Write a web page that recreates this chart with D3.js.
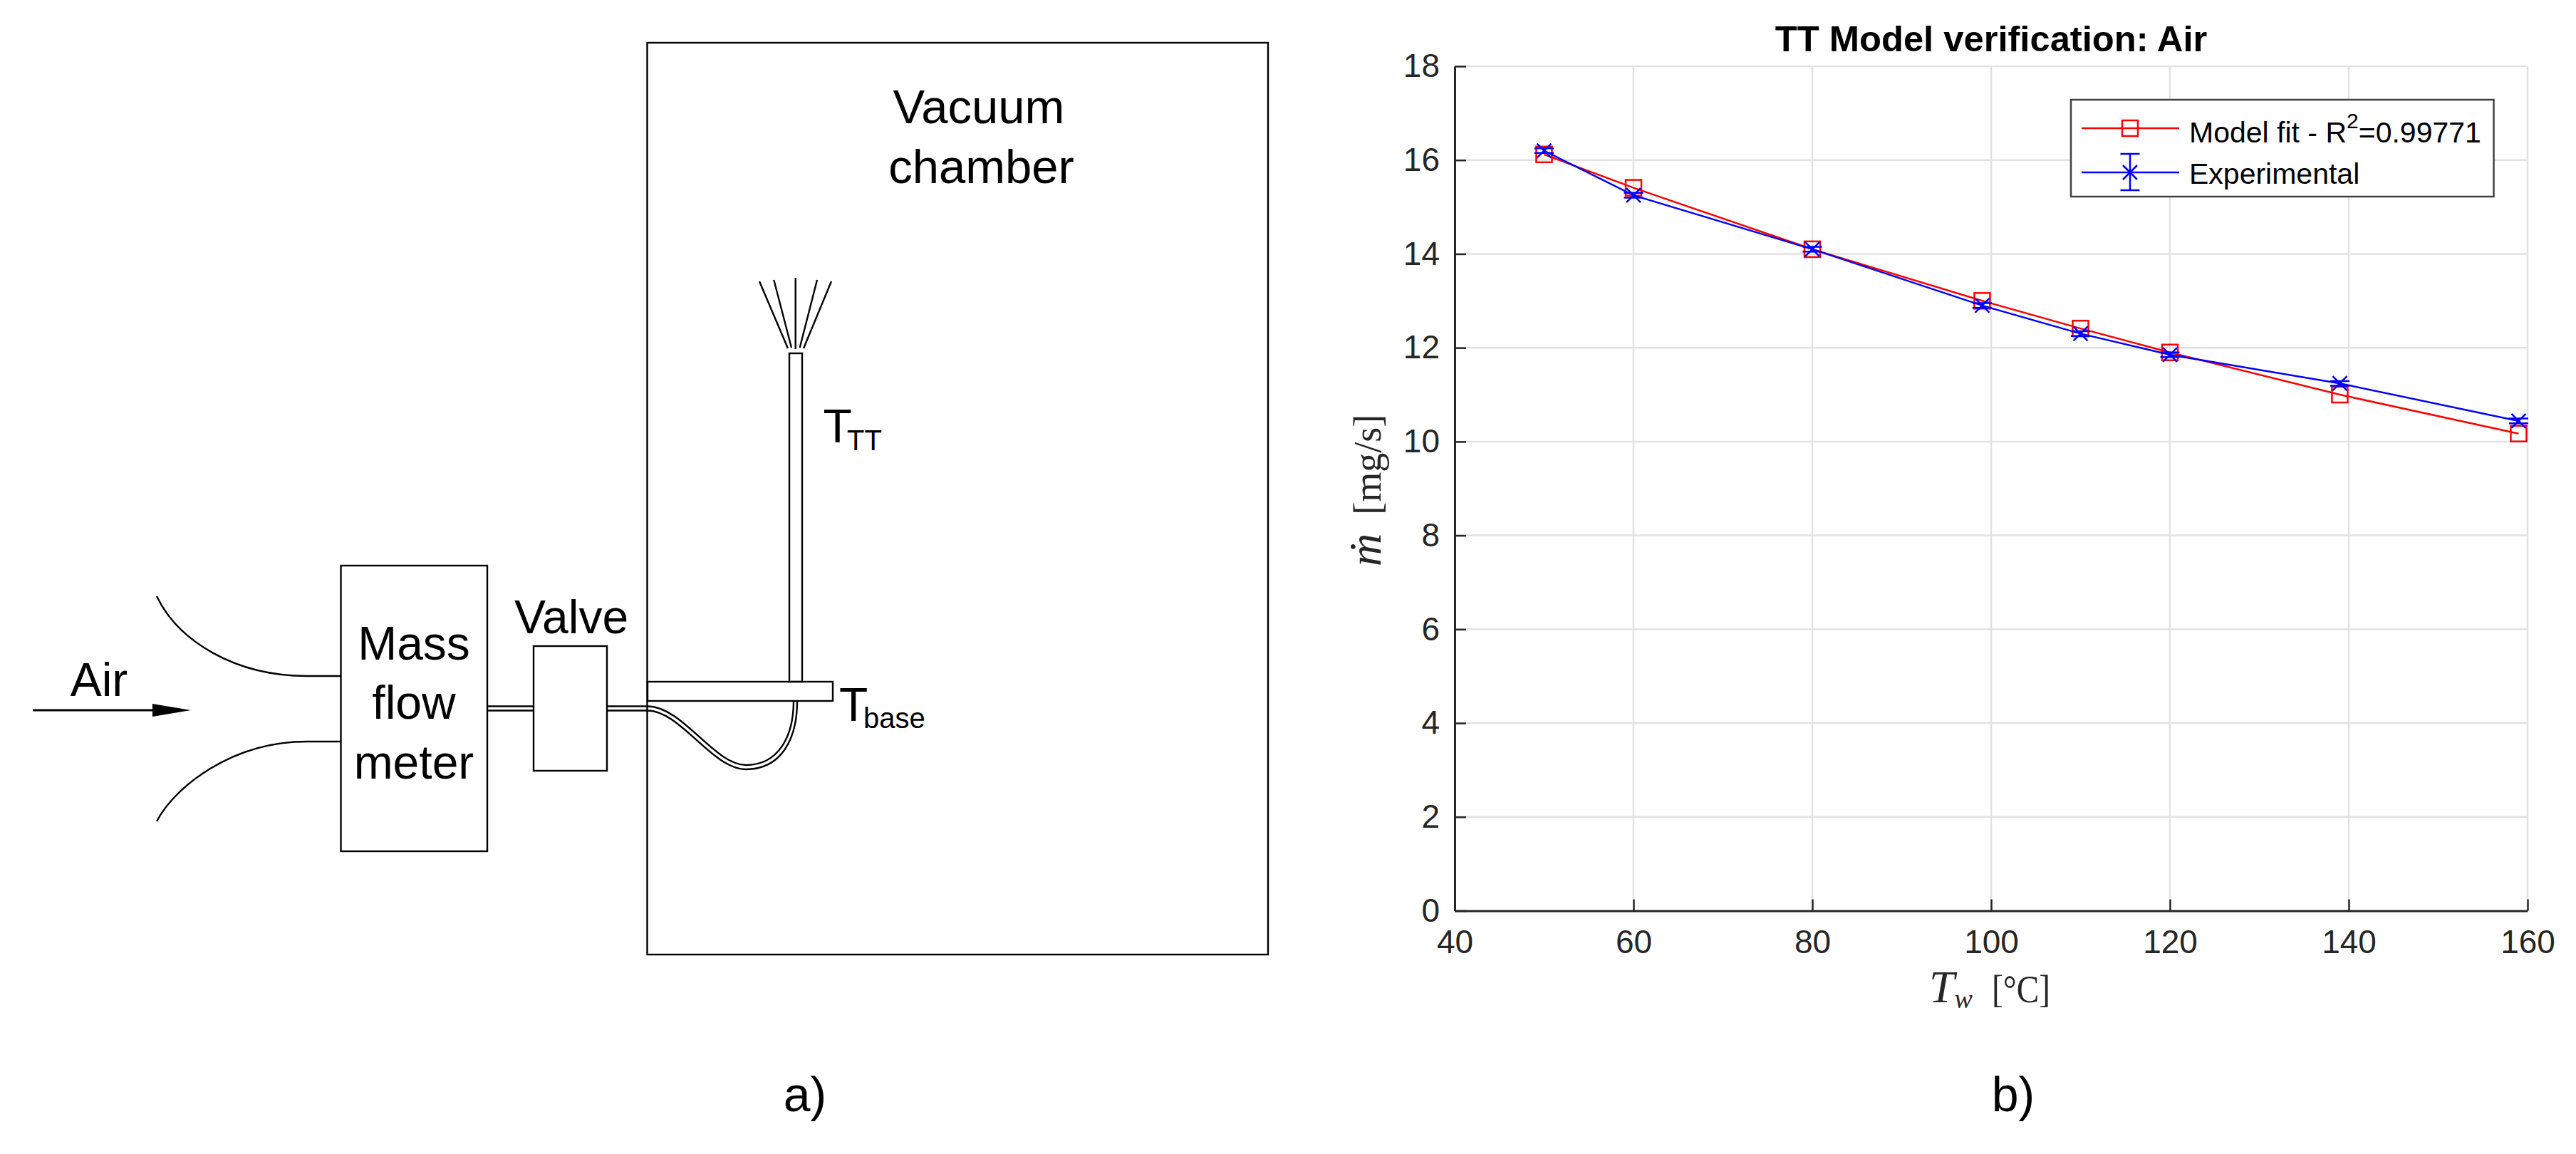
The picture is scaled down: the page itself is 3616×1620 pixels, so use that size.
<!DOCTYPE html>
<html><head><meta charset="utf-8">
<script src="https://cdn.jsdelivr.net/npm/d3@7"></script>
<style>html,body{margin:0;background:#fff}svg{display:block}text{font-family:"Liberation Sans",Arial,sans-serif}</style>
</head><body><script>
const temperature = [50, 60, 80, 99, 110, 120, 139, 159];
const modelFit = [16.12, 15.41, 14.1, 13.0, 12.41, 11.9, 11.0, 10.17];
const experimental = [16.2, 15.25, 14.1, 12.9, 12.3, 11.85, 11.24, 10.44];
const experimentalError = [0.05, 0.05, 0.05, 0.05, 0.05, 0.05, 0.05, 0.05];
const xTicks = [40, 60, 80, 100, 120, 140, 160];
const yTicks = [0, 2, 4, 6, 8, 10, 12, 14, 16, 18];
const legendLabels = ["Model fit - R", "Experimental"];

const svg = d3.select("body").append("svg").attr("width", 3616).attr("height", 1620);
const ink = "#000";

/* ---------- a) schematic ---------- */
const a = svg.append("g").attr("fill", "none").attr("stroke", ink).attr("stroke-width", 2.4);
const rect = (x0, y0, x1, y1) => a.append("rect").attr("x", x0).attr("y", y0).attr("width", x1 - x0).attr("height", y1 - y0);
rect(908.5, 60, 1780, 1340);
rect(478.5, 794, 684, 1195);
rect(749, 907, 852, 1082);
rect(909, 957, 1169, 984);
rect(1108, 496, 1126, 957);
[[1066,395,1106,489],[1086.3,393,1111,488],[1116.7,390,1116.7,490],[1147,393,1122.7,488],[1167,395,1128,489]]
  .forEach(d => a.append("line").attr("x1", d[0]).attr("y1", d[1]).attr("x2", d[2]).attr("y2", d[3]));
[
  "M220,837 C250,900 330,949 431,949 L478.5,949",
  "M220,1153 C245,1105 325,1041 431,1041 L478.5,1041",
  "M684,991.5 L749,991.5", "M684,997.5 L749,997.5",
  "M852,991.5 L909,991.5 C958,991.5 1003,1074 1047,1074 C1092,1074 1114,1035 1114,984",
  "M852,997.5 L909,997.5 C955,997.5 1000,1080 1047,1080 C1095,1080 1119,1040 1119,984"
].forEach(p => a.append("path").attr("d", p));
a.append("line").attr("x1", 46).attr("y1", 997).attr("x2", 215).attr("y2", 997).attr("stroke-width", 3);
a.append("path").attr("d", "M214,988 L268,997 L214,1006 Z").attr("fill", ink).attr("stroke", "none");

const label = (x, y, s, size, anchor) => svg.append("text").attr("x", x).attr("y", y).attr("font-size", size)
  .attr("text-anchor", anchor || "start").attr("fill", ink).text(s);
label(139, 977, "Air", 66, "middle");
label(581, 926, "Mass", 66, "middle");
label(581, 1009, "flow", 66, "middle");
label(581, 1093, "meter", 66, "middle");
label(802, 889, "Valve", 66, "middle");
label(1374, 173, "Vacuum", 67, "middle");
label(1377.5, 257, "chamber", 67, "middle");
label(1155.5, 621, "T", 66); label(1189, 632, "TT", 40);
label(1178, 1012, "T", 66); label(1212, 1022, "base", 40);
label(1130, 1560, "a)", 68, "middle");
label(2826, 1560, "b)", 68, "middle");

/* ---------- b) plot ---------- */
const x = d3.scaleLinear().domain([40, 160]).range([2042, 3548]);
const y = d3.scaleLinear().domain([0, 18]).range([1278.5, 93]);
const tc = "#262626", grid = "#e2e2e2", red = "#ff0000", blue = "#0000ff";
const p = svg.append("g");

p.append("g").selectAll("line").data(xTicks.slice(1)).join("line")
  .attr("x1", d => x(d)).attr("x2", d => x(d)).attr("y1", y(18)).attr("y2", y(0)).attr("stroke", grid).attr("stroke-width", 2.5);
p.append("g").selectAll("line").data(yTicks.slice(1)).join("line")
  .attr("x1", x(40)).attr("x2", x(160)).attr("y1", d => y(d)).attr("y2", d => y(d)).attr("stroke", grid).attr("stroke-width", 2.5);

const styleAxis = (g) => {
  g.select(".domain").attr("stroke", tc).attr("stroke-width", 3);
  g.selectAll(".tick line").attr("stroke", tc).attr("stroke-width", 2.5);
  g.selectAll(".tick text").attr("fill", tc).attr("font-size", 46).attr("font-family", '"Liberation Sans"');
};
const xAxis = p.append("g").attr("transform", `translate(0,${y(0)})`)
  .call(d3.axisBottom(x).tickValues(xTicks).tickSizeInner(-16).tickSizeOuter(0).tickPadding(27).tickFormat(d3.format("d"))).call(styleAxis);
const yAxis = p.append("g").attr("transform", `translate(${x(40)},0)`)
  .call(d3.axisLeft(y).tickValues(yTicks).tickSizeInner(-16).tickSizeOuter(0).tickPadding(21).tickFormat(d3.format("d"))).call(styleAxis);

const line = d3.line().x(d => x(d[0])).y(d => y(d[1]));
const sq = 22, xm = 10, cap = 13.5;
const drawSquare = (g, cx, cy) => g.append("rect").attr("x", cx - sq / 2).attr("y", cy - sq / 2).attr("width", sq).attr("height", sq)
  .attr("fill", "none").attr("stroke", red).attr("stroke-width", 2.5);
const drawCross = (g, cx, cy) => g.append("path").attr("d", `M${cx - xm},${cy - xm}L${cx + xm},${cy + xm}M${cx - xm},${cy + xm}L${cx + xm},${cy - xm}`)
  .attr("fill", "none").attr("stroke", blue).attr("stroke-width", 2.5);
const drawError = (g, cx, top, bottom) => g.append("path")
  .attr("d", `M${cx},${top}L${cx},${bottom}M${cx - cap},${top}L${cx + cap},${top}M${cx - cap},${bottom}L${cx + cap},${bottom}`)
  .attr("fill", "none").attr("stroke", blue).attr("stroke-width", 2.5);

const redPts = d3.zip(temperature, modelFit), bluePts = d3.zip(temperature, experimental);
p.append("path").attr("d", line(redPts)).attr("fill", "none").attr("stroke", red).attr("stroke-width", 2.5);
const mr = p.append("g");
redPts.forEach(d => drawSquare(mr, x(d[0]), y(d[1])));
p.append("path").attr("d", line(bluePts)).attr("fill", "none").attr("stroke", blue).attr("stroke-width", 2.5);
const mb = p.append("g");
bluePts.forEach((d, i) => {
  drawError(mb, x(d[0]), y(d[1] + experimentalError[i]), y(d[1] - experimentalError[i]));
  drawCross(mb, x(d[0]), y(d[1]));
});

svg.append("text").attr("x", 2795).attr("y", 72).attr("text-anchor", "middle").attr("font-size", 50.7)
  .attr("font-weight", "bold").attr("fill", "#000").text("TT Model verification: Air");

/* axis titles */
const serif = '"Liberation Serif","DejaVu Serif",serif';
const xt = svg.append("text").attr("x", 2708).attr("y", 1407).attr("font-size", 64).attr("fill", tc).style("font-family", serif);
xt.append("tspan").attr("font-style", "italic").text("T");
xt.append("tspan").attr("font-style", "italic").attr("font-size", 38).attr("dy", 8).text("w");
svg.append("text").attr("x", 2796).attr("y", 1407).attr("font-size", 54).attr("fill", tc).style("font-family", serif)
  .attr("textLength", 82).attr("lengthAdjust", "spacingAndGlyphs").text("[°C]");
const yt = svg.append("text").attr("transform", "translate(1938,795) rotate(-90)").attr("fill", tc).style("font-family", serif);
yt.append("tspan").attr("font-style", "italic").attr("font-size", 64).text("m\u0307");
yt.append("tspan").attr("font-size", 54).attr("dx", 26).text("[mg/s]");

/* legend */
const lg = svg.append("g");
lg.append("rect").attr("x", 2907).attr("y", 140).attr("width", 593.5).attr("height", 136)
  .attr("fill", "#fff").attr("stroke", "#404040").attr("stroke-width", 2.5);
lg.append("line").attr("x1", 2922).attr("x2", 3059).attr("y1", 180).attr("y2", 180).attr("stroke", red).attr("stroke-width", 2.5);
drawSquare(lg, 2990, 180);
lg.append("line").attr("x1", 2922).attr("x2", 3059).attr("y1", 242).attr("y2", 242).attr("stroke", blue).attr("stroke-width", 2.5);
drawError(lg, 2990, 216, 267);
drawCross(lg, 2990, 242);
const l1 = lg.append("text").attr("x", 3073).attr("y", 200).attr("font-size", 41).attr("fill", "#000").text(legendLabels[0]);
l1.append("tspan").attr("font-size", 30).attr("dy", -20).text("2");
l1.append("tspan").attr("dy", 20).text("=0.99771");
lg.append("text").attr("x", 3073).attr("y", 258).attr("font-size", 41).attr("fill", "#000").text(legendLabels[1]);
</script></body></html>
